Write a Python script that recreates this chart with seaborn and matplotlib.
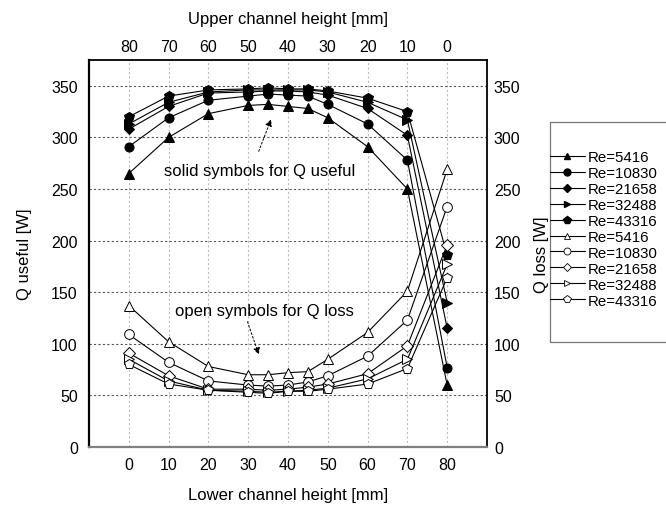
import numpy as np
import pandas as pd
import matplotlib
matplotlib.use("Agg")
import matplotlib.pyplot as plt
import seaborn as sns
from matplotlib.lines import Line2D
from matplotlib.patches import Rectangle

# ---------------- data ----------------
lower_height = [0, 10, 20, 30, 35, 40, 45, 50, 60, 70, 80]
x_ticks = [0, 10, 20, 30, 40, 50, 60, 70, 80]
upper_tick_labels = ["80", "70", "60", "50", "40", "30", "20", "10", "0"]
re_labels = ["Re=5416", "Re=10830", "Re=21658", "Re=32488", "Re=43316"]

# Q useful (solid symbols)
q_useful_5416 = [265, 300, 323, 331, 332, 330, 328, 319, 291, 250, 60]
q_useful_10830 = [291, 319, 336, 340, 342, 341, 340, 332, 313, 278, 77]
q_useful_21658 = [308, 330, 343, 344, 345, 345, 344, 341, 328, 302, 115]
q_useful_32488 = [313, 334, 344, 346, 346, 346, 346, 344, 334, 317, 140]
q_useful_43316 = [320, 340, 346, 347, 348, 347, 347, 345, 338, 325, 186]

# Q loss (open symbols)
q_loss_5416 = [137, 102, 78, 70, 70, 72, 73, 85, 111, 151, 269]
q_loss_10830 = [109, 82, 64, 60, 59, 60, 63, 69, 88, 123, 233]
q_loss_21658 = [91, 69, 56, 56, 55, 56, 58, 61, 71, 98, 196]
q_loss_32488 = [85, 64, 55, 54, 53, 54, 55, 57, 66, 85, 177]
q_loss_43316 = [80, 61, 55, 53, 52, 54, 54, 56, 61, 76, 164]

useful = [q_useful_5416, q_useful_10830, q_useful_21658, q_useful_32488, q_useful_43316]
loss = [q_loss_5416, q_loss_10830, q_loss_21658, q_loss_32488, q_loss_43316]
markers = ["^", "o", "D", ">", "p"]
msizes = [6.5, 6.5, 5.5, 6.5, 7]

# ---------------- figure ----------------
sns.set_style("white")
plt.rcParams["font.family"] = ["Liberation Sans", "DejaVu Sans"]
plt.rcParams["font.size"] = 11
plt.rcParams["text.color"] = "black"
plt.rcParams["axes.labelcolor"] = "black"
plt.rcParams["xtick.color"] = "black"
plt.rcParams["ytick.color"] = "black"

fig = plt.figure(figsize=(6.66, 5.10), dpi=100)
ax = fig.add_axes([0.1336, 0.1216, 0.5976, 0.7588])

handles = []
for vals, lab, m, ms in zip(useful, re_labels, markers, msizes):
    df = pd.DataFrame({"x": lower_height, "y": vals})
    sns.lineplot(data=df, x="x", y="y", ax=ax, color="black", lw=0.8,
                 marker=m, markersize=ms, markerfacecolor="black",
                 markeredgecolor="black", legend=False, zorder=3)
    handles.append(Line2D([], [], color="black", lw=0.8, marker=m,
                          markersize=ms - 1.5, markerfacecolor="black",
                          markeredgecolor="black", label=lab))
for vals, lab, m, ms in zip(loss, re_labels, markers, msizes):
    df = pd.DataFrame({"x": lower_height, "y": vals})
    sns.lineplot(data=df, x="x", y="y", ax=ax, color="black", lw=0.8,
                 marker=m, markersize=ms + 0.5, markerfacecolor="white",
                 markeredgecolor="black", markeredgewidth=0.7,
                 legend=False, zorder=3)
    handles.append(Line2D([], [], color="black", lw=0.8, marker=m,
                          markersize=ms - 1.5, markerfacecolor="white",
                          markeredgecolor="black", markeredgewidth=0.6,
                          label=lab))

ax.set_xlim(-10, 90)
ax.set_ylim(0, 375)
ax.set_xticks(x_ticks)
ax.set_yticks(np.arange(0, 351, 50))
ax.tick_params(length=0, labelsize=11.5, labelcolor="black")
ax.tick_params(axis="x", pad=7)
ax.tick_params(axis="y", pad=8)
ax.set_xlabel("Lower channel height [mm]", fontsize=12, labelpad=11, color="black")
ax.set_ylabel("Q useful [W]", fontsize=12, labelpad=14, color="black")

# grid
for xv in x_ticks:
    ax.axvline(xv, color="#bdbdbd", lw=0.8, ls=(0, (2, 2)), zorder=0)
for yv in np.arange(50, 351, 50):
    ax.axhline(yv, color="#555555", lw=0.8, ls=(0, (2, 2)), zorder=0)

for side, col, lw in [("left", "black", 1.6), ("bottom", "#808080", 1.6),
                      ("top", "black", 1.3), ("right", "black", 1.3)]:
    ax.spines[side].set_color(col)
    ax.spines[side].set_linewidth(lw)

# right axis
axr = ax.twinx()
axr.set_ylim(0, 375)
axr.set_yticks(np.arange(0, 351, 50))
axr.tick_params(length=0, labelsize=11.5, pad=5, labelcolor="black")
axr.set_ylabel("Q loss [W]", fontsize=12, labelpad=10, color="black")
axr.grid(False)
for s in axr.spines.values():
    s.set_visible(False)

# top axis
axt = ax.twiny()
axt.set_xlim(-10, 90)
axt.set_xticks(x_ticks)
axt.set_xticklabels(upper_tick_labels)
axt.tick_params(length=0, labelsize=11.5, pad=4, labelcolor="black")
axt.set_xlabel("Upper channel height [mm]", fontsize=12, labelpad=12, color="black")
axt.grid(False)
for s in axt.spines.values():
    s.set_visible(False)

# annotations
ax.text(33, 268, "solid symbols for Q useful", ha="center", va="center",
        fontsize=12, color="black")
ax.annotate("", xy=(36, 320), xytext=(32.4, 284),
            arrowprops=dict(arrowstyle="-|>", color="black", lw=0.7,
                            ls=(0, (2, 2)), mutation_scale=10))
ax.text(34, 132, "open symbols for Q loss", ha="center", va="center",
        fontsize=12, color="black")
ax.annotate("", xy=(32.9, 87), xytext=(29.6, 124),
            arrowprops=dict(arrowstyle="-|>", color="black", lw=0.7,
                            ls=(0, (2, 2)), mutation_scale=10))

# legend box (open on the right, extends beyond the figure)
fig.patches.append(Rectangle((550 / 666, (510 - 343) / 510), 0.4, (343 - 123) / 510,
                             transform=fig.transFigure, fill=False,
                             edgecolor="#777777", lw=0.9))
leg = fig.legend(handles=handles, loc="upper left",
                 bbox_to_anchor=(550 / 666, (510 - 151) / 510),
                 frameon=False, fontsize=10.8, handlelength=2.3, handletextpad=0.2,
                 labelspacing=0.13, borderpad=0, borderaxespad=0)
for t in leg.get_texts():
    t.set_color("black")

fig.savefig("out.png", dpi=100)
